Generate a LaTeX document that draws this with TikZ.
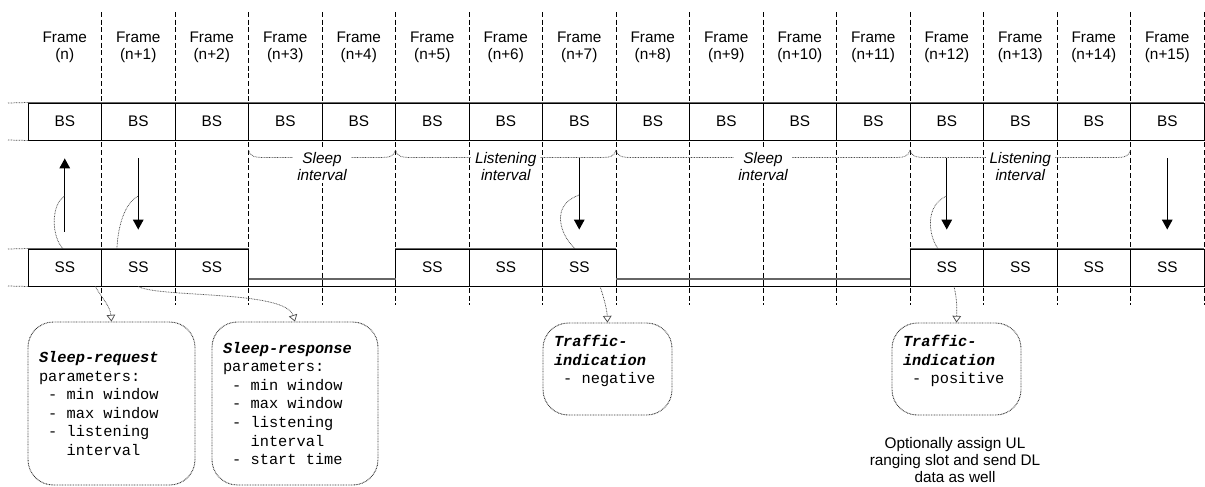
\documentclass[tikz,border=0pt]{standalone}
\usepackage{fontspec}
\setmainfont{Liberation Sans}
\newfontfamily\monof{Liberation Mono}
\usetikzlibrary{arrows.meta}
\newcommand{\ivbrace}[2]{\draw[dotl] (#1,150) .. controls ({#1+1.5},156.5) and ({#1+6},157.5) .. ({#1+16},157.5) -- ({#2-16},157.5) .. controls ({#2-6},157.5) and ({#2-1.5},156.5) .. (#2,150);}
\newcommand{\ms}{\hphantom{x}}
\newcommand{\bim}[1]{{\bfseries\itshape #1}}
\begin{document}
\begin{tikzpicture}[x=0.75pt,y=-0.75pt,
  every node/.style={font=\fontsize{11.5}{12.75}\selectfont, inner sep=0pt},
  frameline/.style={dash pattern=on 3.75pt off 2pt, line width=0.6pt},
  cell/.style={draw, fill=white, minimum width=55.125pt, minimum height=27.75pt, line width=0.7pt},
  toprule/.style={draw=black!60, line width=1.2pt},
  dotl/.style={draw=black!70, dash pattern=on 0.6pt off 0.6pt, line width=0.55pt},
  sarrow/.style={line width=0.8pt, -{Triangle[width=8pt,length=7.5pt]}},
  callarrow/.style={dotl, -{Triangle[open,width=6.5pt,length=5pt]}},
  bubble/.style={draw=black!80, dash pattern=on 0.6pt off 0.6pt, line width=0.7pt, rounded corners=19pt, align=left, font=\monof\fontsize{11.5}{13.9}\selectfont, inner xsep=8.25pt},
  ivl/.style={fill=white, align=center, font=\itshape\fontsize{11.5}{12.75}\selectfont, inner xsep=3pt, inner ysep=2pt},
  bar/.style={draw, fill=white, line width=0.7pt},
]
\useasboundingbox (0,0) rectangle (1205,486);

% frame boundaries
\foreach \i in {1,...,16} \draw[frameline] ({28+73.5*\i},12) -- ({28+73.5*\i},305);

% interval braces
\ivbrace{248.5}{395.5}
\ivbrace{395.5}{616}
\ivbrace{616}{910}
\ivbrace{910}{1130.5}
\node[ivl] (iv1) at (322,166.5) {Sleep\\interval};
\node[ivl] (iv2) at (505.75,166.5) {Listening\\interval};
\node[ivl] (iv3) at (763,166.5) {Sleep\\interval};
\node[ivl] (iv4) at (1020.25,166.5) {Listening\\interval};

% frame labels
\node[align=center] (f0) at (64.75,47) {Frame\\(n)};
\foreach \i in {1,...,15} \node[align=center] (f\i) at ({64.75+73.5*\i},47) {Frame\\(n+\i)};

% BS row
\foreach \i in {0,...,15} \node[cell] (bs\i) at ({64.75+73.5*\i},121.5) {BS};
\draw[toprule] (bs0.north west) -- (bs15.north east);

% SS row
\foreach \i in {0,1,2,5,6,7,12,13,14,15} \node[cell] (ss\i) at ({64.75+73.5*\i},267.5) {SS};
\draw[toprule] (ss0.north west) -- (ss2.north east);
\draw[toprule] (ss5.north west) -- (ss7.north east);
\draw[toprule] (ss12.north west) -- (ss15.north east);

% sleep bars
\draw[bar] (248.5,279) rectangle (395.5,286);
\draw[line width=0.7pt] (322,279) -- (322,286);
\draw[toprule] (248.5,279) -- (395.5,279);
\draw[bar] (616,279) rectangle (910,286);
\foreach \x in {689.5,763,836.5} \draw[line width=0.7pt] (\x,279) -- (\x,286);
\draw[toprule] (616,279) -- (910,279);

% left dotted extensions
\draw[dotl] (8,103) -- (bs0.north west);
\draw[dotl] (8,140) -- (bs0.south west);
\draw[dotl] (8,249) -- (ss0.north west);
\draw[dotl] (8,286) -- (ss0.south west);

% messages
\draw[sarrow, shorten <=12.75pt, shorten >=13.5pt] (ss0.north) -- (bs0.south);
\foreach \i in {1,7,12,15} \draw[sarrow, shorten <=13.5pt, shorten >=14.25pt] (bs\i.south) -- (ss\i.north);

% annotation curves to messages
\coordinate (m0) at (64.75,196);
\coordinate (m1) at (138.25,196);
\coordinate (m7) at (579.25,195);
\coordinate (m12) at (946.75,196);
\draw[dotl] ([xshift=-1.3pt]ss0.north) .. controls (52,238) and (50,205) .. (m0);
\draw[dotl] ([xshift=-16pt]ss1.north) .. controls (118,225) and (125,203) .. (m1);
\draw[dotl] ([xshift=-3.2pt]ss7.north) .. controls (560,235) and (550,205) .. (m7);
\draw[dotl] ([xshift=-6.6pt]ss12.north) .. controls (928,235) and (925,205) .. (m12);

% bubbles
\node[bubble, minimum width=125.25pt, minimum height=122.25pt, text width=108.75pt] (req) at (111.5,403.5)
  {\bim{Sleep-request}\\parameters:\\\ms-\ms min\ms window\\\ms-\ms max\ms window\\\ms-\ms listening\\\ms\ms\ms interval};
\node[bubble, minimum width=124.5pt, minimum height=122.25pt, text width=108pt] (resp) at (295,403.5)
  {\bim{Sleep-response}\\parameters:\\\ms-\ms min\ms window\\\ms-\ms max\ms window\\\ms-\ms listening\\\ms\ms\ms interval\\\ms-\ms start\ms time};
\node[bubble, minimum width=96.75pt, minimum height=69pt, text width=80.25pt] (neg) at (607.5,369)
  {\bim{Traffic-}\\\bim{indication}\\\ms-\ms negative\\\ms};
\node[bubble, minimum width=96.75pt, minimum height=69pt, text width=80.25pt] (pos) at (956.5,369)
  {\bim{Traffic-}\\\bim{indication}\\\ms-\ms positive\\\ms};

% callouts
\draw[callarrow] ([xshift=-4.9pt]ss0.south east) .. controls (100,296) and (110,305) .. (req.north);
\draw[callarrow] (ss1.south) .. controls (160,298) and (285,290) .. (resp.north);
\draw[callarrow] ([xshift=15.6pt]ss7.south) .. controls (604,298) and (607,310) .. (neg.north);
\draw[callarrow] ([xshift=5.4pt]ss12.south) .. controls (957,298) and (957,310) .. (pos.north);

% note
\node[align=center, font=\fontsize{11.5}{13.1}\selectfont] (note) at (955,460) {Optionally assign UL\\ranging slot and send DL\\data as well};
\end{tikzpicture}
\end{document}
